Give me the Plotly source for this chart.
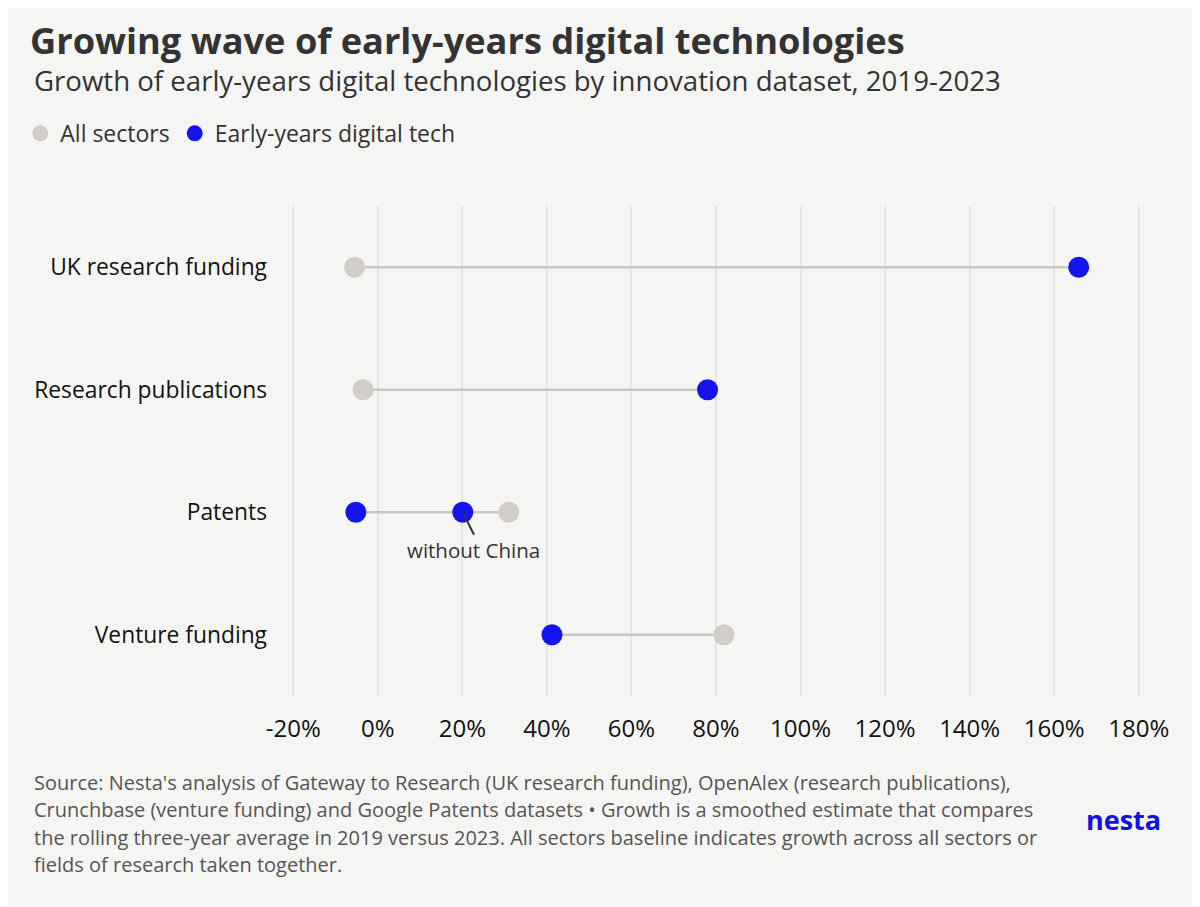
import plotly.graph_objects as go

categories = ["UK research funding", "Research publications", "Patents", "Venture funding"]
all_sectors = [-5.5, -3.5, 31.0, 81.9]
early_years = [165.8, 78.0, -5.2, 41.2]
patents_without_china = 20.1

x_ticks = [-20, 0, 20, 40, 60, 80, 100, 120, 140, 160, 180]
x_tick_labels = ["%d%%" % t for t in x_ticks]

footnote_lines = [
    "Source: Nesta's analysis of Gateway to Research (UK research funding), OpenAlex (research publications),",
    "Crunchbase (venture funding) and Google Patents datasets \u2022 Growth is a smoothed estimate that compares",
    "the rolling three-year average in 2019 versus 2023. All sectors baseline indicates growth across all sectors or",
    "fields of research taken together.",
]

GREY = "#d2cdc7"
BLUE = "#1414ec"
BG = "#f5f6f4"
FONT = "Open Sans"

# the page puts the plot 8px in from the top left corner, so shift by that
OFF = 8
W, H = 1200, 907
L, R, T, B = 288 - OFF, 60 + OFF, 205.7 - OFF, 210.7 + OFF
pw, ph = W - L - R, H - T - B


def px(x):
    return (x - OFF - L) / pw


def py(y):
    return (H - B - (y - OFF)) / ph


# connecting lines, one segment per row from lowest to highest value
line_x, line_y = [], []
for i, cat in enumerate(categories):
    vals = [all_sectors[i], early_years[i]]
    if cat == "Patents":
        vals.append(patents_without_china)
    line_x += [min(vals), max(vals), None]
    line_y += [cat, cat, None]

fig = go.Figure()
fig.add_trace(go.Scatter(x=line_x, y=line_y, mode="lines",
                         line=dict(color="#c9c9c7", width=2.5),
                         showlegend=False, hoverinfo="skip"))
fig.add_trace(go.Scatter(x=all_sectors, y=categories, mode="markers",
                         name="All sectors",
                         marker=dict(color=GREY, size=21)))
fig.add_trace(go.Scatter(x=early_years, y=categories, mode="markers",
                         name="Early-years digital tech",
                         marker=dict(color=BLUE, size=21)))
fig.add_trace(go.Scatter(x=[patents_without_china], y=["Patents"], mode="markers",
                         marker=dict(color=BLUE, size=21), showlegend=False))

annotations = [
    dict(text="Growth of early-years digital technologies by innovation dataset, 2019-2023",
         x=px(27), y=py(80), xanchor="left", yanchor="middle",
         font=dict(size=27.6, color="#333333", family=FONT)),
    dict(text="without China", x=px(470), y=py(550), xanchor="center", yanchor="middle",
         font=dict(size=20.5, color="#333333", family=FONT)),
    dict(x=patents_without_china, y="Patents", xref="x", yref="y", text="",
         showarrow=True, arrowhead=0, arrowwidth=2, arrowcolor="#333333",
         ax=12, ay=24, standoff=2),
    dict(text="<b>nesta</b>", x=px(1123), y=py(820), xanchor="center", yanchor="middle",
         font=dict(size=27, color="#1010e8", family=FONT)),
]
for i, line in enumerate(footnote_lines):
    annotations.append(dict(text=line, x=px(27), y=py(783 + i * 27.3),
                            xanchor="left", yanchor="middle",
                            font=dict(size=20, color="#555555", family=FONT)))
for a in annotations:
    a.setdefault("xref", "paper")
    a.setdefault("yref", "paper")
    a.setdefault("showarrow", False)

fig.update_layout(
    width=W, height=H,
    margin=dict(l=L, r=R, t=T, b=B),
    paper_bgcolor=BG, plot_bgcolor=BG,
    font=dict(family=FONT, color="#111111", size=22),
    title=dict(text="<b>Growing wave of early-years digital technologies</b>",
               x=(30 - OFF) / W, xanchor="left", xref="container",
               y=1 - (41 - OFF) / H, yanchor="middle", yref="container",
               font=dict(size=36.2, color="#333333", family=FONT)),
    legend=dict(orientation="h", x=px(15), y=py(133), xanchor="left", yanchor="middle",
                font=dict(size=23, color="#333333"), itemwidth=30,
                bgcolor="rgba(0,0,0,0)", traceorder="normal"),
    annotations=annotations,
    showlegend=True,
)
fig.update_xaxes(range=[-20.3, 180.3], tickvals=x_ticks, ticktext=x_tick_labels,
                 showgrid=True, gridcolor="#e6e6e3", gridwidth=2, zeroline=False,
                 showline=False, ticks="", ticklabelstandoff=16,
                 tickfont=dict(size=24, color="#111111"), fixedrange=True)
fig.update_yaxes(categoryorder="array", categoryarray=categories[::-1],
                 range=[-0.5, 3.5], showgrid=False, zeroline=False, showline=False,
                 ticks="", ticklabelstandoff=24,
                 tickfont=dict(size=22.8, color="#111111"), fixedrange=True)

fig.write_html("out.html")
